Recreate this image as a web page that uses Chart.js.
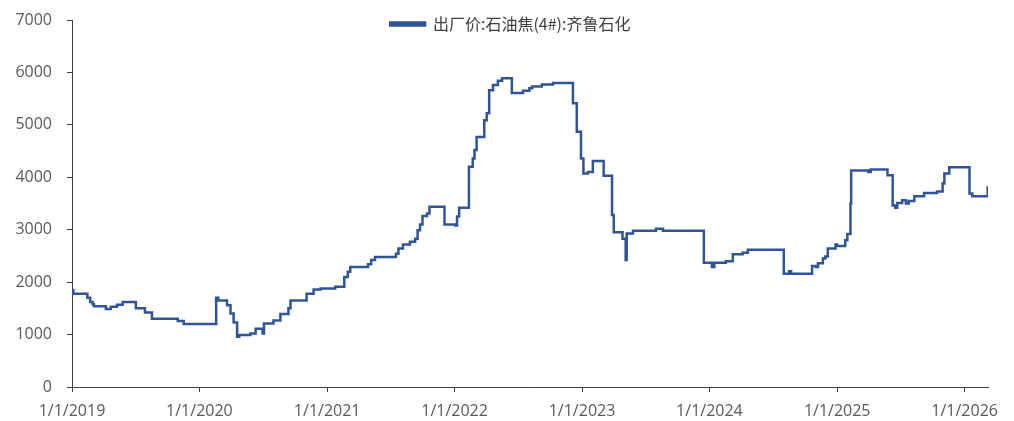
<!DOCTYPE html>
<html>
<head>
<meta charset="utf-8">
<script src="https://cdn.jsdelivr.net/npm/chart.js@4.4.0/dist/chart.umd.min.js"></script>
<style>
  html, body { margin: 0; padding: 0; background: #fff; }
  #wrap { width: 1014px; height: 421px; }
</style>
</head>
<body>
<div id="wrap"><canvas id="line-chart"></canvas></div>
<script>
// 出厂价:石油焦(4#):齐鲁石化 — price change dates and new values
var seriesName = '出厂价:石油焦(4#):齐鲁石化';
var dates = [
    '2019-01-01', '2019-01-05', '2019-02-14', '2019-02-22', '2019-03-01', '2019-03-05',
    '2019-04-08', '2019-04-22', '2019-05-10', '2019-05-26', '2019-07-03', '2019-07-29',
    '2019-08-18', '2019-10-31', '2019-11-17', '2020-02-18', '2020-02-24', '2020-03-20',
    '2020-03-30', '2020-04-08', '2020-04-18', '2020-04-24', '2020-05-26', '2020-06-10',
    '2020-06-30', '2020-07-04', '2020-07-31', '2020-08-20', '2020-09-12', '2020-09-18',
    '2020-11-03', '2020-11-23', '2020-12-13', '2021-01-24', '2021-02-19', '2021-03-01',
    '2021-03-08', '2021-04-28', '2021-05-07', '2021-05-18', '2021-07-17', '2021-07-24',
    '2021-08-06', '2021-08-26', '2021-09-10', '2021-09-17', '2021-09-24', '2021-10-01',
    '2021-10-14', '2021-10-21', '2021-12-03', '2022-01-03', '2022-01-08', '2022-01-14',
    '2022-02-11', '2022-02-22', '2022-02-27', '2022-03-05', '2022-03-27', '2022-04-03',
    '2022-04-10', '2022-04-21', '2022-05-05', '2022-05-17', '2022-06-14', '2022-07-16',
    '2022-08-03', '2022-08-11', '2022-09-08', '2022-10-10', '2022-12-06', '2022-12-17',
    '2022-12-29', '2023-01-05', '2023-01-18', '2023-02-01', '2023-03-04', '2023-03-28',
    '2023-04-02', '2023-04-27', '2023-05-06', '2023-05-09', '2023-05-27', '2023-08-01',
    '2023-08-21', '2023-12-16', '2024-01-08', '2024-01-15', '2024-02-17', '2024-03-08',
    '2024-04-05', '2024-04-20', '2024-08-01', '2024-08-16', '2024-08-22', '2024-10-21',
    '2024-11-01', '2024-11-07', '2024-11-21', '2024-11-28', '2024-12-05', '2024-12-27',
    '2025-01-01', '2025-01-24', '2025-01-30', '2025-02-08', '2025-02-10', '2025-03-31',
    '2025-04-07', '2025-05-25', '2025-06-09', '2025-06-16', '2025-06-22', '2025-07-06',
    '2025-07-17', '2025-07-25', '2025-08-10', '2025-09-07', '2025-10-14', '2025-10-30',
    '2025-11-04', '2025-11-18', '2026-01-15', '2026-01-23', '2026-03-07', '2026-03-08'
];
var prices = [
    1850, 1780, 1700, 1620, 1580, 1540,
    1490, 1530, 1570, 1620, 1500, 1420,
    1300, 1260, 1200, 1700, 1650, 1560,
    1400, 1230, 960, 990, 1020, 1110,
    1020, 1210, 1270, 1390, 1500, 1650,
    1780, 1860, 1880, 1910, 2100, 2200,
    2290, 2340, 2420, 2480, 2540, 2640,
    2720, 2770, 2830, 2990, 3100, 3260,
    3310, 3440, 3100, 3080, 3250, 3420,
    4200, 4360, 4520, 4770, 5090, 5220,
    5660, 5760, 5840, 5890, 5610, 5650,
    5700, 5730, 5770, 5800, 5410, 4870,
    4360, 4070, 4100, 4310, 4030, 3280,
    2950, 2830, 2420, 2930, 2980, 3020,
    2980, 2370, 2290, 2370, 2400, 2530,
    2560, 2620, 2160, 2210, 2160, 2310,
    2290, 2360, 2450, 2490, 2640, 2720,
    2690, 2800, 2920, 3500, 4130, 4100,
    4150, 4040, 3460, 3420, 3510, 3560,
    3500, 3550, 3640, 3700, 3730, 3880,
    4070, 4190, 3690, 3640, 3640, 3830
];
var yearTicks = ['2019-01-01', '2020-01-01', '2021-01-01', '2022-01-01', '2023-01-01', '2024-01-01', '2025-01-01', '2026-01-01'];
var yTicks = [0, 1000, 2000, 3000, 4000, 5000, 6000, 7000];

function toTime(s) {
    var p = s.split('-');
    return Date.UTC(+p[0], +p[1] - 1, +p[2]);
}

var points = dates.map(function (d, i) {
    return { x: toTime(d), y: prices[i] };
});

var lineColor = '#2f5597';
var tickFont = { family: "'Open Sans', sans-serif", size: 16 };

// legend sits over the top of the plot, like the original
var legendNudge = {
    id: 'legendNudge',
    afterLayout: function (chart) {
        var l = chart.legend;
        var w = l.right - l.left, h = l.bottom - l.top;
        l.left = 389; l.right = l.left + w;
        l.top = 16; l.bottom = l.top + h;
    }
};

var ctx = document.getElementById('line-chart');
var chart = new Chart(ctx, {
    type: 'line',
    data: {
        datasets: [{
            label: seriesName,
            data: points,
            borderColor: lineColor,
            backgroundColor: lineColor,
            borderWidth: 2.5,
            pointRadius: 0,
            stepped: true,
            fill: false
        }]
    },
    options: {
        responsive: true,
        maintainAspectRatio: false,
        animation: false,
        layout: { padding: { top: 20, right: 26, left: 0, bottom: 0 } },
        plugins: {
            tooltip: { enabled: false },
            legend: {
                position: 'chartArea',
                align: 'start',
                labels: {
                    boxWidth: 36,
                    boxHeight: 3,
                    padding: 0,
                    color: '#404040',
                    font: { family: "'Noto Sans CJK SC', sans-serif", size: 16 }
                }
            }
        },
        scales: {
            x: {
                type: 'linear',
                min: toTime('2019-01-01'),
                max: toTime('2026-03-09'),
                afterBuildTicks: function (scale) {
                    scale.ticks = yearTicks.map(function (d) { return { value: toTime(d) }; });
                },
                afterFit: function (scale) { scale.height = 34; },
                ticks: {
                    autoSkip: false,
                    maxRotation: 0,
                    color: '#595959',
                    font: tickFont,
                    padding: 10,
                    callback: function (v) {
                        var d = new Date(v);
                        return (d.getUTCMonth() + 1) + '/' + d.getUTCDate() + '/' + d.getUTCFullYear();
                    }
                },
                grid: { display: true, drawOnChartArea: false, drawTicks: true, tickLength: 5, color: '#404040' },
                border: { display: true, color: '#404040', width: 1 }
            },
            y: {
                min: 0,
                max: 7000,
                afterBuildTicks: function (scale) {
                    scale.ticks = yTicks.map(function (v) { return { value: v }; });
                },
                afterFit: function (scale) { scale.width = 72; },
                ticks: {
                    color: '#595959',
                    // small lineHeight keeps the top label from pushing the plot down
                    font: { family: "'Open Sans', sans-serif", size: 16, lineHeight: 0.5 },
                    padding: 15,
                    callback: function (v) { return String(v); }
                },
                grid: { display: true, drawOnChartArea: false, drawTicks: true, tickLength: 5, color: '#404040' },
                border: { display: true, color: '#404040', width: 1 }
            }
        }
    },
    plugins: [legendNudge]
});
</script>
</body>
</html>
